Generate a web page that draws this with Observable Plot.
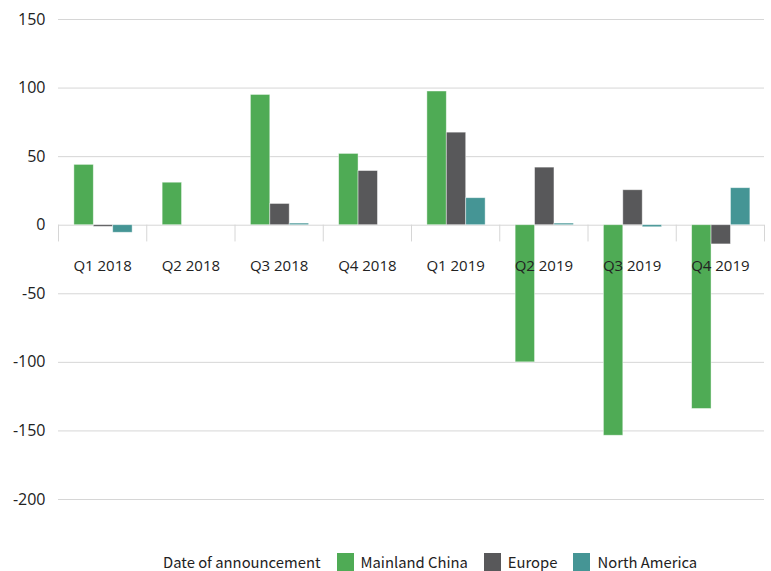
<!DOCTYPE html>
<html><head><meta charset="utf-8">
<script src="https://cdn.jsdelivr.net/npm/d3@7"></script>
<script src="https://cdn.jsdelivr.net/npm/@observablehq/plot@0.6"></script>
<style>
body{margin:0;background:#fff;width:771px;height:571px;overflow:hidden;position:relative;}
#legend{position:absolute;top:553px;left:163px;display:flex;align-items:center;font-family:"Noto Sans CJK SC","Noto Sans",sans-serif;font-size:14.8px;color:#222;white-space:nowrap;line-height:18px;}
#legend .item{display:flex;align-items:center;margin-left:16px;}
#legend .sw{width:17px;height:18px;margin-right:7px;}
</style></head><body>
<div id="chart"></div>
<div id="legend"></div>
<script>
const quarters = ["Q1 2018","Q2 2018","Q3 2018","Q4 2018","Q1 2019","Q2 2019","Q3 2019","Q4 2019"];
const seriesNames = ["Mainland China","Europe","North America"];
const china = [44, 31, 95, 52, 97.5, -100, -153.5, -134];
const europe = [-1.2, 0, 15.5, 39.5, 67.5, 42, 25.5, -14];
const northAmerica = [-5.5, 0, 1.2, 0, 19.7, 1.2, -1.5, 27];
const yTicks = [-200, -150, -100, -50, 0, 50, 100, 150];
const colors = ["#4fab55", "#58585a", "#459595"];
const legendTitle = "Date of announcement";

const seriesValues = [china, europe, northAmerica];
const rows = [];
quarters.forEach((q, i) => seriesNames.forEach((s, j) => {
  const v = seriesValues[j][i];
  if (v !== 0) rows.push({quarter: q, i, j, series: s, value: v});
}));
const groupStart = 0.18, barW = 0.22;
const bounds = d3.range(quarters.length + 1);

const chart = Plot.plot({
  width: 771, height: 545,
  marginLeft: 58, marginRight: 7, marginTop: 19, marginBottom: 46,
  style: {fontFamily: "'Open Sans', sans-serif", fontSize: "16px", color: "#222", background: "#fff"},
  x: {domain: [0, quarters.length], axis: null},
  y: {domain: [-200, 150], ticks: yTicks, tickSize: 0, tickPadding: 13, label: null, tickFormat: d => String(d)},
  color: {domain: seriesNames, range: colors},
  marks: [
    Plot.ruleY(yTicks, {stroke: "#d6d6d6", strokeWidth: 1}),
    Plot.ruleX(bounds, {x: d => d, y1: 0, y2: -12.2, stroke: "#d6d6d6", strokeWidth: 1}),
    Plot.rect(rows, {
      x1: d => d.i + groupStart + d.j * barW,
      x2: d => d.i + groupStart + (d.j + 1) * barW,
      y1: 0, y2: "value", fill: "series",
      stroke: "#ffffff", strokeOpacity: 0.55, strokeWidth: 0.8
    }),
    Plot.text(quarters, {x: (d, i) => i + 0.5, y: 0, text: d => d, dy: 41, fill: "#222", fontSize: 15})
  ]
});
document.getElementById("chart").appendChild(chart);

const lg = document.getElementById("legend");
const t = document.createElement("span"); t.textContent = legendTitle; lg.appendChild(t);
seriesNames.forEach((s, k) => {
  const it = document.createElement("span"); it.className = "item";
  const sw = document.createElement("span"); sw.className = "sw"; sw.style.background = colors[k];
  const tx = document.createElement("span"); tx.textContent = s;
  it.appendChild(sw); it.appendChild(tx); lg.appendChild(it);
});
</script>
</body></html>
